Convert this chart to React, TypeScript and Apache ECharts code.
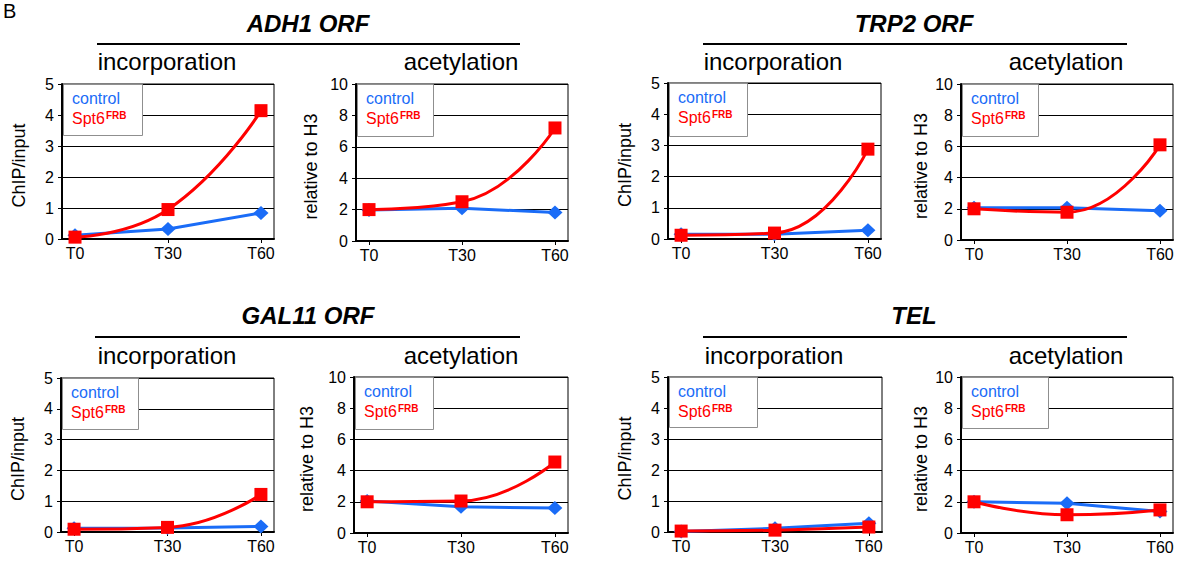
import React, { useEffect, useRef } from "react";
import * as echarts from "echarts";

// ---------- data ----------
const timepoints = ["T0", "T30", "T60"];
const seriesNames = ["control", "Spt6FRB"];

const adh1IncControl = [0.12, 0.32, 0.84];
const adh1IncSpt6 = [0.06, 0.95, 4.14];
const adh1AcControl = [1.98, 2.09, 1.81];
const adh1AcSpt6 = [2.0, 2.5, 7.2];

const trp2IncControl = [0.15, 0.15, 0.28];
const trp2IncSpt6 = [0.12, 0.19, 2.88];
const trp2AcControl = [2.07, 2.07, 1.88];
const trp2AcSpt6 = [2.0, 1.78, 6.1];

const gal11IncControl = [0.12, 0.13, 0.18];
const gal11IncSpt6 = [0.09, 0.15, 1.22];
const gal11AcControl = [2.05, 1.68, 1.6];
const gal11AcSpt6 = [2.0, 2.05, 4.55];

const telIncControl = [0.02, 0.12, 0.28];
const telIncSpt6 = [0.03, 0.06, 0.16];
const telAcControl = [2.0, 1.9, 1.38];
const telAcSpt6 = [2.0, 1.17, 1.48];

const geneTitles = ["ADH1 ORF", "TRP2 ORF", "GAL11 ORF", "TEL"];
const panelTitles = ["incorporation", "acetylation"];
const yNames = ["ChIP/input", "relative to H3"];

// ---------- layout ----------
const FONT = '"Liberation Sans", Arial, Helvetica, sans-serif';
const BLUE = "#1a6cf7";
const RED = "#ff0000";

const panels = [
  { g: { left: 62, top: 84, width: 212, height: 155 }, kind: 0, ctrl: adh1IncControl, spt: adh1IncSpt6, box: [142, 135], tx: 167, ty: 61, nx: 19 },
  { g: { left: 356, top: 84, width: 212, height: 157 }, kind: 1, ctrl: adh1AcControl, spt: adh1AcSpt6, box: [433, 136], tx: 461, ty: 61, nx: 311 },
  { g: { left: 668, top: 83, width: 213, height: 156 }, kind: 0, ctrl: trp2IncControl, spt: trp2IncSpt6, box: [747, 136], tx: 773, ty: 61, nx: 625 },
  { g: { left: 961, top: 84, width: 212, height: 156 }, kind: 1, ctrl: trp2AcControl, spt: trp2AcSpt6, box: [1038, 136], tx: 1066, ty: 61, nx: 921 },
  { g: { left: 61, top: 378, width: 213, height: 154 }, kind: 0, ctrl: gal11IncControl, spt: gal11IncSpt6, box: [138, 429], tx: 167, ty: 355, nx: 18 },
  { g: { left: 354, top: 377, width: 214, height: 156 }, kind: 1, ctrl: gal11AcControl, spt: gal11AcSpt6, box: [433, 429], tx: 461, ty: 355, nx: 307 },
  { g: { left: 668, top: 377, width: 214, height: 155 }, kind: 0, ctrl: telIncControl, spt: telIncSpt6, box: [757, 427], tx: 774, ty: 355, nx: 625 },
  { g: { left: 961, top: 377, width: 212, height: 156 }, kind: 1, ctrl: telAcControl, spt: telAcSpt6, box: [1048, 428], tx: 1066, ty: 355, nx: 921 },
];

const geneHeaders = [
  { x: 308, y: 23, lx1: 97, lx2: 520, ly: 44 },
  { x: 914, y: 23, lx1: 703, lx2: 1127, ly: 44 },
  { x: 308, y: 315, lx1: 95, lx2: 520, ly: 337 },
  { x: 914, y: 315, lx1: 703, lx2: 1127, ly: 337 },
];

function buildOption() {
  const grid: any[] = [];
  const xAxis: any[] = [];
  const yAxis: any[] = [];
  const series: any[] = [];
  const graphic: any[] = [];

  panels.forEach((p, i) => {
    grid.push({
      ...p.g,
      show: true,
      borderColor: "#000",
      borderWidth: 1,
      backgroundColor: "transparent",
    });
    xAxis.push({
      type: "value",
      gridIndex: i,
      min: -0.14,
      max: 2.14,
      splitLine: { show: false },
      axisLine: { onZero: false, lineStyle: { color: "#000", width: 2 } },
      axisTick: { show: true, customValues: [0, 1, 2], length: 4, lineStyle: { color: "#000", width: 1 } },
      axisLabel: {
        customValues: [0, 1, 2],
        formatter: (v: number) => timepoints[Math.round(v)] ?? "",
        color: "#000",
        fontSize: 16,
        fontFamily: FONT,
        margin: 6,
      },
    });
    const ymax = p.kind === 0 ? 5 : 10;
    const yint = p.kind === 0 ? 1 : 2;
    yAxis.push({
      type: "value",
      gridIndex: i,
      min: 0,
      max: ymax,
      interval: yint,
      axisLine: { show: true, onZero: false, lineStyle: { color: "#000", width: 2 } },
      axisTick: { show: true, length: 4, lineStyle: { color: "#000", width: 1 } },
      splitLine: { show: true, lineStyle: { color: "#000", width: 1 } },
      axisLabel: { color: "#000", fontSize: 16, fontFamily: FONT, margin: 8 },
    });
    series.push({
      name: seriesNames[0],
      type: "line",
      xAxisIndex: i,
      yAxisIndex: i,
      data: p.ctrl.map((v, j) => [j, v]),
      symbol: "diamond",
      symbolSize: [15, 14],
      smooth: false,
      lineStyle: { color: BLUE, width: 3 },
      itemStyle: { color: BLUE },
      z: 3,
    });
    series.push({
      name: seriesNames[1],
      type: "line",
      xAxisIndex: i,
      yAxisIndex: i,
      data: p.spt.map((v, j) => [j, v]),
      symbol: "rect",
      symbolSize: 13,
      smooth: 0.5,
      lineStyle: { color: RED, width: 3 },
      itemStyle: { color: RED },
      z: 4,
    });

    // panel subtitle
    graphic.push({
      type: "text",
      x: p.tx,
      y: p.ty,
      style: { text: panelTitles[p.kind], font: `24px ${FONT}`, fill: "#000", align: "center", verticalAlign: "middle" },
    });
    // y-axis name
    graphic.push({
      type: "text",
      x: p.nx,
      y: p.g.top + p.g.height / 2 + 4,
      rotation: Math.PI / 2,
      style: { text: yNames[p.kind], font: `18px ${FONT}`, fill: "#000", align: "center", verticalAlign: "middle" },
    });
    // legend box
    const bx = p.g.left + 1;
    const by = p.g.top;
    graphic.push({
      type: "rect",
      z: 10,
      shape: { x: bx + 0.5, y: by + 0.5, width: p.box[0] - bx, height: p.box[1] - by },
      style: { fill: "#fff", stroke: "#8f8f8f", lineWidth: 1 },
    });
    graphic.push({
      type: "text",
      z: 11,
      x: p.g.left + 10,
      y: by + 14,
      style: { text: seriesNames[0], font: `16px ${FONT}`, fill: BLUE, align: "left", verticalAlign: "middle" },
    });
    graphic.push({
      type: "text",
      z: 11,
      x: p.g.left + 10,
      y: by + 34,
      style: {
        text: "{s|Spt6}{f|FRB}",
        align: "left",
        verticalAlign: "middle",
        rich: {
          s: { fontSize: 16, fontFamily: FONT, fill: RED, lineHeight: 18 },
          f: { fontSize: 10, fontFamily: FONT, fontWeight: "bold", fill: RED, verticalAlign: "top", lineHeight: 12, padding: [1, 0, 0, 1] },
        },
      },
    });
  });

  geneHeaders.forEach((h, i) => {
    graphic.push({
      type: "text",
      x: h.x,
      y: h.y,
      style: { text: geneTitles[i], font: `italic bold 24px ${FONT}`, fill: "#000", align: "center", verticalAlign: "middle" },
    });
    graphic.push({
      type: "line",
      shape: { x1: h.lx1, y1: h.ly, x2: h.lx2, y2: h.ly },
      style: { stroke: "#000", lineWidth: 2 },
    });
  });

  graphic.push({
    type: "text",
    x: 3,
    y: 1,
    style: { text: "B", font: `20px ${FONT}`, fill: "#000", align: "left", verticalAlign: "top" },
  });

  return {
    animation: false,
    backgroundColor: "#fff",
    grid,
    xAxis,
    yAxis,
    series,
    graphic,
  };
}

export default function App() {
  const ref = useRef<HTMLDivElement>(null);
  useEffect(() => {
    if (!ref.current) return;
    const chart = echarts.init(ref.current, undefined, { renderer: "svg" });
    chart.setOption(buildOption() as any);
    return () => chart.dispose();
  }, []);
  return <div ref={ref} style={{ position: "fixed", left: 0, top: 0, width: 1186, height: 565 }} />;
}
